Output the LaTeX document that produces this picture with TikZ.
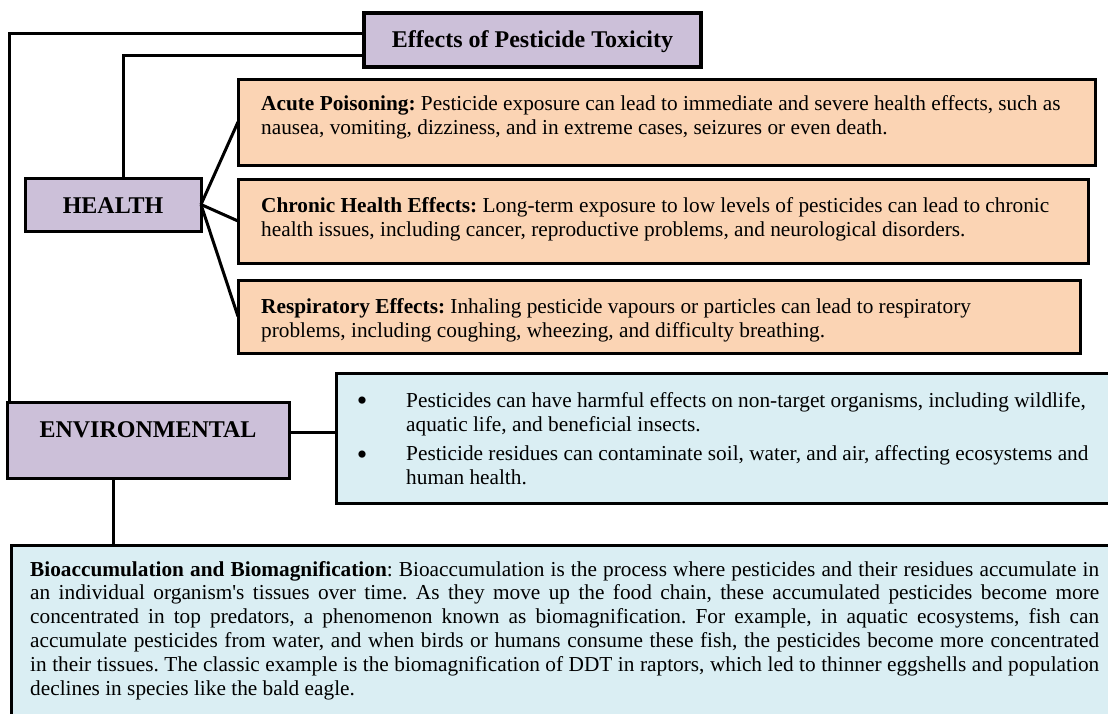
\documentclass[tikz,border=0pt]{standalone}
\usepackage{fontspec}
\setmainfont{Liberation Serif}
\frenchspacing
\definecolor{lav}{HTML}{CCC0D9}
\definecolor{peach}{HTML}{FBD4B4}
\definecolor{pale}{HTML}{DAEEF3}
\tikzset{
  box/.style={draw=black, line width=3pt, anchor=north west, inner sep=0pt, outer sep=0pt},
  head/.style={font=\fontsize{24}{28}\selectfont\bfseries, anchor=base, inner sep=0pt},
  body/.style={font=\fontsize{21.3}{24}\selectfont, anchor=north west, align=left, inner sep=0pt},
  dot/.style={font=\fontsize{30}{30}\selectfont, anchor=center, inner sep=0pt},
  link/.style={line width=3pt}
}
\begin{document}
\begin{tikzpicture}[x=1pt,y=-1pt]
\useasboundingbox (0,0) rectangle (1108,713);
\clip (0,0) rectangle (1108,713);
\fill[white] (0,0) rectangle (1108,713);
% boxes (empty shapes)
\coordinate (k1) at (9,33);
\coordinate (k2) at (123,55);
\coordinate (k3) at (0,432);
\coordinate (k4) at (113,0);
\node[box, fill=lav, line width=3.5pt, minimum width=337, minimum height=54] (title) at (364,13) {};
\node[box, fill=lav, minimum width=176, minimum height=53] (health) at (25,178) {};
\node[box, fill=lav, minimum width=282, minimum height=76] (env) at (7,402) {};
\node[box, fill=peach, minimum width=857, minimum height=86] (acute) at (238,79) {};
\node[box, fill=peach, minimum width=850, minimum height=84] (chronic) at (238,179) {};
\node[box, fill=peach, minimum width=842, minimum height=73] (resp) at (238,280) {};
\node[box, fill=pale, minimum width=800, minimum height=130] (bul) at (336,373) {};
\node[box, fill=pale, minimum width=1110, minimum height=200] (bio) at (11,545) {};
% connectors
\draw[link] (title.west |- k1) -- (k1) -- (k1 |- env.north);
\draw[link] (title.west |- k2) -- (k2) -- (k2 |- health.north);
\draw[link] (health.east) -- (acute.west);
\draw[link] (health.east) -- (chronic.west);
\draw[link] (health.east) -- (resp.west);
\draw[link] (env.east |- k3) -- (bul.west |- k3);
\draw[link] (env.south -| k4) -- (bio.north -| k4);
% texts
\node[head] (titletx) at (532.5,47) {Effects of Pesticide Toxicity};
\node[head] (healthtx) at (113,213) {HEALTH};
\node[head] (envtx) at (148,437) {ENVIRONMENTAL};
\node[body] (acutetx) at (261,93.2) {\strut\textbf{Acute Poisoning:} Pesticide exposure can lead to immediate and severe health effects, such as\\nausea, vomiting, dizziness, and in extreme cases, seizures or even death.};
\node[body] (chronictx) at (261,195.2) {\strut\textbf{Chronic Health Effects:} Long-term exposure to low levels of pesticides can lead to chronic\\health issues, including cancer, reproductive problems, and neurological disorders.};
\node[body] (resptx) at (261,296.2) {\strut\textbf{Respiratory Effects:} Inhaling pesticide vapours or particles can lead to respiratory\\problems, including coughing, wheezing, and difficulty breathing.};
\node[dot] (d1) at (362,404) {•};
\node[dot] (d2) at (362,458) {•};
\node[body] (b1tx) at (406,390.2) {\strut Pesticides can have harmful effects on non-target organisms, including wildlife,\\aquatic life, and beneficial insects.};
\node[body] (b2tx) at (406,443.2) {\strut Pesticide residues can contaminate soil, water, and air, affecting ecosystems and\\human health.};
\node[body, font=\fontsize{21.3}{23.8}\selectfont] (biotx) at (30,559.3) {%
\makebox[1069pt][s]{\strut\textbf{Bioaccumulation and Biomagnification}: Bioaccumulation is the process where pesticides and their residues accumulate in}\\
\makebox[1069pt][s]{an individual organism\textquotesingle s tissues over time. As they move up the food chain, these accumulated pesticides become more}\\
\makebox[1069pt][s]{concentrated in top predators, a phenomenon known as biomagnification. For example, in aquatic ecosystems, fish can}\\
\makebox[1069pt][s]{accumulate pesticides from water, and when birds or humans consume these fish, the pesticides become more concentrated}\\
\makebox[1069pt][s]{in their tissues. The classic example is the biomagnification of DDT in raptors, which led to thinner eggshells and population}\\
declines in species like the bald eagle.};
\end{tikzpicture}
\end{document}
